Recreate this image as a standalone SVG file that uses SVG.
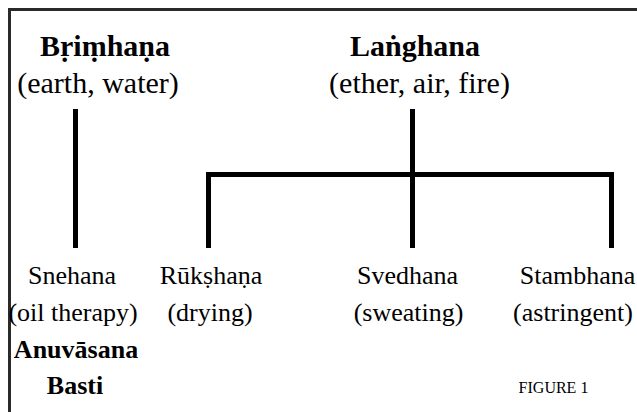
<svg xmlns="http://www.w3.org/2000/svg" width="637" height="412" viewBox="0 0 637 412">
<style>
text{font-family:"Liberation Serif","Times New Roman","DejaVu Serif",serif;fill:#000;text-anchor:middle}
.h{font-size:30px;font-weight:bold}
.hs{font-size:30px}
.t{font-size:26px}
.b{font-size:26px;font-weight:bold}
.f{font-size:16px}
.c{stroke:#000;stroke-width:5;fill:none}
</style>
<rect width="637" height="412" fill="#fff"/>
<path d="M9.5,412 V9.5 H637" fill="none" stroke="#2a2a2a" stroke-width="3"/>
<g id="connectors">
<line class="c" x1="75.5" y1="109" x2="75.5" y2="248"/>
<line class="c" x1="412.5" y1="109" x2="412.5" y2="248"/>
<path class="c" d="M208.5,248 V174.5 H611.5 V248"/>
</g>
<g id="brimhana">
<text class="h" x="105" y="56">Bṛiṃhaṇa</text>
<text class="hs" x="98" y="93">(earth, water)</text>
</g>
<g id="langhana">
<text class="h" x="415" y="56">Laṅghana</text>
<text class="hs" x="419.5" y="93">(ether, air, fire)</text>
</g>
<g id="snehana">
<text class="t" x="72" y="284">Snehana</text>
<text class="t" x="73" y="321">(oil therapy)</text>
<text class="b" x="76" y="358">Anuvāsana</text>
<text class="b" x="75" y="394">Basti</text>
</g>
<g id="rukshana">
<text class="t" x="211" y="284">Rūkṣhaṇa</text>
<text class="t" x="210" y="321">(drying)</text>
</g>
<g id="svedhana">
<text class="t" x="407.5" y="284">Svedhana</text>
<text class="t" x="408.5" y="321">(sweating)</text>
</g>
<g id="stambhana">
<text class="t" x="577.5" y="284">Stambhana</text>
<text class="t" x="573" y="321">(astringent)</text>
</g>
<text class="f" x="553.5" y="393">FIGURE 1</text>
</svg>
